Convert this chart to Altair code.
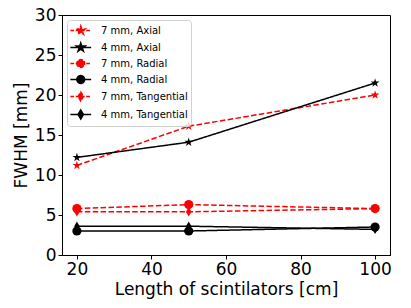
import altair as alt
import pandas as pd
import json

lengths = [20, 50, 100]
series_names = ["7 mm, Axial", "4 mm, Axial", "7 mm, Radial", "4 mm, Radial",
                "7 mm, Tangential", "4 mm, Tangential"]
ax7 = [11.2, 16.1, 20.0]
ax4 = [12.2, 14.1, 21.5]
rad7 = [5.8, 6.3, 5.8]
rad4 = [3.0, 3.0, 3.5]
tan7 = [5.4, 5.4, 5.8]
tan4 = [3.6, 3.6, 3.2]
values = [ax7, ax4, rad7, rad4, tan7, tan4]
keys = ["s0", "s1", "s2", "s3", "s4", "s5"]

rows = []
for name, key, vals in zip(series_names, keys, values):
    for x, v in zip(lengths, vals):
        rows.append({"length": x, "fwhm": v, "series": name, "key": key})
df = pd.DataFrame(rows)

STAR = [(0, -1), (0.223, -0.307), (0.951, -0.309), (0.361, 0.117), (0.588, 0.809),
        (0, 0.38), (-0.588, 0.809), (-0.361, 0.117), (-0.951, -0.309), (-0.223, -0.307)]


def star_path(s, cx=0.0):
    return "M" + "L".join(f"{cx + x*s:.3f},{y*s:.3f}" for x, y in STAR) + "Z"


def diamond_path(s, cx=0.0):
    return f"M{cx:.3f},{-s}L{cx + 0.6*s:.3f},0L{cx:.3f},{s}L{cx - 0.6*s:.3f},0Z"


def circle_path(r, cx=0.0):
    return (f"M{cx - r:.3f},0A{r},{r} 0 1,0 {cx + r:.3f},0"
            f"A{r},{r} 0 1,0 {cx - r:.3f},0Z")


star = star_path(1)
diamond = diamond_path(1)

colors = ["#ff0000", "#000000"] * 3
shapes = [star, star, "circle", "circle", diamond, diamond]
dashes = [[5.5, 2.4], [1, 0]] * 3

# legend symbols: short line with a marker in its middle
c = 0.5
leg_marker = [star_path(0.7, c), star_path(0.7, c), circle_path(0.6, c), circle_path(0.6, c),
              diamond_path(0.7, c), diamond_path(0.7, c)]
leg_paths = ["M-1.1,0L2.1,0" + m for m in leg_marker]
names_js = json.dumps(series_names)
shape_expr = "[" + ",".join(json.dumps(p) for p in leg_paths) + "][indexof(" + names_js + ", datum.value)]"
dash_expr = "indexof(" + names_js + ", datum.value) % 2 == 0 ? [3.7, 1.6] : [1, 0]"
col_expr = "indexof(" + names_js + ", datum.value) % 2 == 0 ? '#ff0000' : '#000000'"

color = alt.Color("series:N", sort=series_names,
                  scale=alt.Scale(domain=series_names, range=colors),
                  legend=alt.Legend(title=None,
                                    symbolType=alt.ExprRef(expr=shape_expr),
                                    symbolDash=alt.ExprRef(expr=dash_expr),
                                    symbolStrokeColor=alt.ExprRef(expr=col_expr),
                                    symbolFillColor=alt.ExprRef(expr=col_expr)))
shape = alt.Shape("key:N", scale=alt.Scale(domain=keys, range=shapes), legend=None)
dash = alt.StrokeDash("key:N", scale=alt.Scale(domain=keys, range=dashes), legend=None)

xenc = alt.X("length:Q", scale=alt.Scale(domain=[16, 104], nice=False),
             axis=alt.Axis(values=[20, 40, 60, 80, 100], title="Length of scintilators [cm]"))
yenc = alt.Y("fwhm:Q", scale=alt.Scale(domain=[0, 30], nice=False),
             axis=alt.Axis(values=[0, 5, 10, 15, 20, 25, 30], title="FWHM [mm]"))

lines = alt.Chart(df).mark_line(strokeWidth=1.5).encode(
    x=xenc, y=yenc, color=color, strokeDash=dash, detail="series:N")
points = alt.Chart(df).mark_point(filled=True, size=85, opacity=1).encode(
    x=xenc, y=yenc, color=color, shape=shape)

chart = alt.layer(lines, points).properties(
    width=328, height=240,
    autosize=alt.AutoSizeParams(type="none"),
    padding={"left": 54, "top": 7, "right": 13, "bottom": 45},
).configure_view(stroke="black", strokeWidth=1).configure_axis(
    labelFont="DejaVu Sans", titleFont="DejaVu Sans",
    labelFontSize=17, titleFontSize=17, titleFontWeight="normal",
    labelColor="black", titleColor="black",
    domainColor="black", tickColor="black", tickSize=4, grid=False,
    labelPadding=2, titlePadding=4,
).configure_legend(
    orient="top-left", offset=5,
    labelFont="DejaVu Sans", labelFontSize=10, labelColor="black",
    symbolSize=169, symbolStrokeWidth=1.5, rowPadding=1, labelOffset=16,
    fillColor="rgba(255,255,255,0.8)", strokeColor="#d0d0d0",
    cornerRadius=3, padding=3,
)

chart.save("out.html", embed_options={"renderer": "svg", "actions": False})
